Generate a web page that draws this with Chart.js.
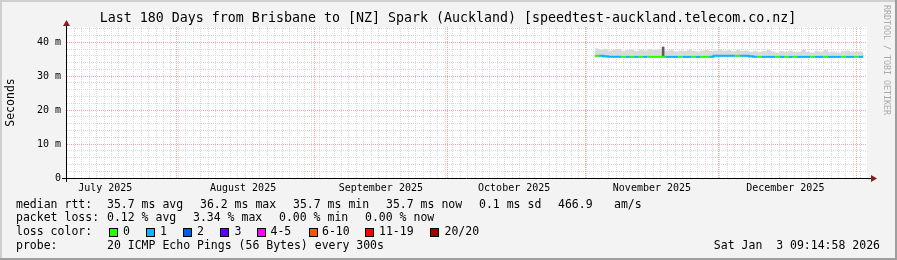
<!DOCTYPE html>
<html lang="en">
<head>
<meta charset="UTF-8">
<title>Last 180 Days from Brisbane to [NZ] Spark (Auckland)</title>
<script src="https://cdn.jsdelivr.net/npm/chart.js"></script>
<style>
  html, body { margin: 0; padding: 0; background: #f3f3f3; overflow: hidden; }
  canvas { display: block; }
</style>
</head>
<body>
<canvas id="smoke" width="897" height="260"></canvas>
<script>
// time axis: days since Mon Jul 7 2025 09:15 (180 days before the probe stamp)
const startStamp = Date.UTC(2025, 6, 7, 9, 15);
const rangeDays = 180;
const yMax = 44.5;

const monthStarts = ['2025-08-01', '2025-09-01', '2025-10-01', '2025-11-01', '2025-12-01', '2026-01-01'];
const monthLabelDates = ['2025-07-16', '2025-08-16', '2025-09-16', '2025-10-16', '2025-11-16', '2025-12-16'];
const monthLabels = ['July 2025', 'August 2025', 'September 2025', 'October 2025', 'November 2025', 'December 2025'];

// one sample per day, day offset from start
const sampleDays = [119, 120, 121, 122, 123, 124, 125, 126, 127, 128, 129, 130, 131, 132, 133, 134, 135, 136, 137, 138,
  139, 140, 141, 142, 143, 144, 145, 146, 147, 148, 149, 150, 151, 152, 153, 154, 155, 156, 157, 158,
  159, 160, 161, 162, 163, 164, 165, 166, 167, 168, 169, 170, 171, 172, 173, 174, 175, 176, 177, 178, 179, 180];

// median rtt in ms
const medianMs = [36.0, 36.0, 36.0, 35.9, 35.7, 35.7, 35.7, 35.7, 35.7, 35.7, 35.7, 35.7, 35.7, 35.7, 35.7, 35.7, 35.7, 35.7, 35.7, 35.7,
  35.7, 35.7, 35.7, 35.7, 35.7, 35.7, 35.7, 35.7, 36.0, 36.0, 36.0, 36.0, 36.0, 36.0, 36.0, 36.0, 35.9, 35.7, 35.7, 35.7,
  35.7, 35.7, 35.7, 35.7, 35.7, 35.7, 35.7, 35.7, 35.7, 35.7, 35.7, 35.7, 35.7, 35.7, 35.7, 35.7, 35.7, 35.7, 35.7, 35.7, 35.7, 35.7];

// lost pings (of 20) -> colour bin index
const lossBin = [0, 1, 1, 1, 1, 1, 0, 1, 0, 1, 0, 1, 0, 0, 0, 0, 1, 1, 1, 0,
  1, 1, 0, 1, 0, 0, 1, 1, 1, 1, 1, 1, 0, 1, 1, 1, 1, 0, 1, 1,
  1, 0, 1, 0, 1, 0, 1, 1, 1, 0, 1, 1, 0, 1, 1, 1, 0, 1, 1, 0, 1, 1];

// smoke band (min / max rtt, ms)
const smokeMin = [35.5, 35.5, 35.5, 35.5, 35.4, 35.4, 35.4, 35.5, 35.4, 35.4, 35.4, 35.4, 35.5, 35.4, 35.4, 35.4, 35.4, 35.4, 35.4, 35.4,
  35.4, 35.4, 35.4, 35.4, 35.4, 35.4, 35.4, 35.4, 35.6, 35.6, 35.6, 35.6, 35.6, 35.6, 35.6, 35.6, 35.5, 35.4, 35.4, 35.4,
  35.4, 35.4, 35.4, 35.4, 35.4, 35.4, 35.4, 35.4, 35.4, 35.4, 35.4, 35.4, 35.4, 35.4, 35.4, 35.4, 35.4, 35.4, 35.4, 35.4, 35.4, 35.4];
const smokeMax = [38.0, 38.2, 37.9, 38.1, 37.6, 37.8, 38.0, 37.5, 37.7, 37.9, 37.4, 37.8, 37.6, 38.0, 37.7, 37.9, 37.5, 37.6, 37.8, 37.3,
  37.6, 37.4, 37.7, 37.5, 37.3, 37.6, 37.8, 37.4, 37.6, 37.9, 37.5, 37.7, 37.3, 37.8, 37.4, 37.6, 37.2, 37.5, 37.1, 37.4,
  37.8, 37.3, 37.0, 37.4, 37.2, 37.6, 37.1, 37.3, 37.7, 37.2, 37.0, 37.5, 37.2, 37.8, 37.1, 37.3, 37.0, 37.4, 37.6, 37.2, 37.3, 37.3];

// single outlier spike
const spikeDays = [134.55];
const spikeLow = [36.0];
const spikeHigh = [38.6];

const lossLabels = ['0', '1', '2', '3', '4-5', '6-10', '11-19', '20/20'];
const lossColors = ['#26ff00', '#00b8ff', '#0059ff', '#5e00ff', '#ff00ff', '#ff5500', '#ff0000', '#a00000'];

const dayOf = s => {
  const [y, m, d] = s.split('-').map(Number);
  return (Date.UTC(y, m - 1, d) - startStamp) / 864e5;
};

const minorGrid = '#d9d9d9';
const majorGrid = '#f5a3a3';
const mono = '"DejaVu Sans Mono", monospace';

const textPlugin = {
  id: 'rrdText',
  beforeDraw(chart) {
    const { ctx, chartArea: a } = chart;
    ctx.save();
    ctx.fillStyle = '#f3f3f3';
    ctx.fillRect(0, 0, chart.width, chart.height);
    ctx.fillStyle = '#ffffff';
    ctx.fillRect(a.left, a.top, a.right - a.left, a.bottom - a.top);
    ctx.restore();
  },
  afterDraw(chart) {
    const { ctx, chartArea: a } = chart;
    ctx.save();

    // axes + arrows
    ctx.strokeStyle = '#000';
    ctx.lineWidth = 1;
    ctx.beginPath();
    ctx.moveTo(a.left - 0.5, a.bottom + 4);
    ctx.lineTo(a.left - 0.5, a.top - 2);
    ctx.moveTo(a.left - 5, a.bottom + 0.5);
    ctx.lineTo(a.right + 4, a.bottom + 0.5);
    ctx.stroke();
    ctx.fillStyle = '#8b1a1a';
    ctx.beginPath();
    ctx.moveTo(a.left - 0.5, a.top - 7);
    ctx.lineTo(a.left - 4, a.top - 1);
    ctx.lineTo(a.left + 3, a.top - 1);
    ctx.closePath();
    ctx.fill();
    ctx.beginPath();
    ctx.moveTo(a.right + 10, a.bottom + 0.5);
    ctx.lineTo(a.right + 4, a.bottom - 3);
    ctx.lineTo(a.right + 4, a.bottom + 4);
    ctx.closePath();
    ctx.fill();

    ctx.fillStyle = '#000';
    ctx.textBaseline = 'middle';

    // title
    ctx.font = '13.3px ' + mono;
    ctx.textAlign = 'center';
    ctx.fillText('Last 180 Days from Brisbane to [NZ] Spark (Auckland) [speedtest-auckland.telecom.co.nz]', 448, 18.5);

    // y axis title
    ctx.font = '11.5px ' + mono;
    ctx.save();
    ctx.translate(11, 102.5);
    ctx.rotate(-Math.PI / 2);
    ctx.fillText('Seconds', 0, 0);
    ctx.restore();

    // watermark
    ctx.save();
    ctx.fillStyle = '#a9a9a9';
    ctx.font = '8.3px ' + mono;
    ctx.translate(886, 60);
    ctx.rotate(Math.PI / 2);
    ctx.fillText('RRDTOOL / TOBI OETIKER', 0, 0);
    ctx.restore();

    // legend
    ctx.textAlign = 'left';
    ctx.font = '11.5px ' + mono;
    const rows = [
      [205, [[16, 'median rtt:'], [107, '35.7 ms avg'], [200, '36.2 ms max'], [293, '35.7 ms min'], [386, '35.7 ms now'], [479, '0.1 ms sd'], [558, '466.9'], [614, 'am/s']]],
      [218.5, [[16, 'packet loss:'], [107, '0.12 % avg'], [193, '3.34 % max'], [279, '0.00 % min'], [365, '0.00 % now']]],
      [232, [[16, 'loss color:']]],
      [246, [[16, 'probe:'], [107, '20 ICMP Echo Pings (56 Bytes) every 300s']]]
    ];
    rows.forEach(([y, parts]) => parts.forEach(([x, t]) => ctx.fillText(t, x, y)));

    const boxX = [108.5, 146, 183, 220, 257, 309, 365, 430];
    const labX = [123, 160, 197, 234.5, 270.5, 322, 379, 444.5];
    lossLabels.forEach((lab, i) => {
      ctx.fillStyle = lossColors[i];
      ctx.fillRect(Math.round(boxX[i]), 228, 8, 8);
      ctx.strokeStyle = '#000';
      ctx.strokeRect(Math.round(boxX[i]) + 0.5, 228.5, 8, 8);
      ctx.fillStyle = '#000';
      ctx.fillText(lab, labX[i], 232);
    });

    ctx.textAlign = 'right';
    ctx.fillText('Sat Jan  3 09:14:58 2026', 880, 246);

    // frame
    ctx.fillStyle = '#cfcfcf';
    ctx.fillRect(0, 0, chart.width, 2);
    ctx.fillRect(0, 0, 2, chart.height);
    ctx.fillStyle = '#9e9e9e';
    ctx.fillRect(0, chart.height - 2, chart.width, 2);
    ctx.fillRect(chart.width - 2, 0, 2, chart.height);
    ctx.restore();
  }
};

const gridOnly = (ticksFn, color, horizontal) => ({
  type: 'linear',
  position: horizontal ? 'bottom' : 'left',
  min: 0,
  max: horizontal ? rangeDays : yMax,
  afterBuildTicks: s => { s.ticks = ticksFn().map(v => ({ value: v })); },
  afterFit: s => { if (horizontal) s.height = 0; else s.width = 0; },
  ticks: { display: false },
  grid: { color: color, lineWidth: 1, drawTicks: false },
  border: { display: false, dash: [1, 1] }
});

const minorXTicks = () => {
  const out = [];
  for (let v = 1.685; v < rangeDays; v += 1.685) out.push(v);
  return out;
};
const minorYTicks = () => {
  const out = [];
  for (let v = 2; v < yMax; v += 2) if (v % 10 !== 0) out.push(v);
  return out;
};

new Chart(document.getElementById('smoke'), {
  type: 'line',
  data: {
    datasets: [
      {
        label: 'median rtt',
        data: sampleDays.map((d, i) => ({ x: d, y: medianMs[i] })),
        xAxisID: 'x', yAxisID: 'y',
        stepped: 'after',
        borderWidth: 2,
        borderCapStyle: 'butt',
        borderColor: lossColors[0],
        segment: { borderColor: c => lossColors[lossBin[c.p0DataIndex]] },
        pointRadius: 0,
        fill: false
      },
      {
        type: 'bar',
        label: 'outlier',
        data: spikeDays.map((d, i) => ({ x: d, y: [spikeLow[i], spikeHigh[i]] })),
        xAxisID: 'x', yAxisID: 'y',
        backgroundColor: '#5c5c5c',
        barThickness: 2
      },
      {
        label: 'smoke low',
        data: sampleDays.map((d, i) => ({ x: d, y: smokeMin[i] })),
        xAxisID: 'x', yAxisID: 'y',
        stepped: 'after',
        borderWidth: 0,
        borderColor: 'transparent',
        pointRadius: 0,
        fill: false
      },
      {
        label: 'smoke high',
        data: sampleDays.map((d, i) => ({ x: d, y: smokeMax[i] })),
        xAxisID: 'x', yAxisID: 'y',
        stepped: 'after',
        borderWidth: 0,
        borderColor: 'transparent',
        backgroundColor: '#dadada',
        pointRadius: 0,
        fill: '-1'
      }
    ]
  },
  options: {
    responsive: false,
    devicePixelRatio: 1,
    animation: false,
    events: [],
    layout: { padding: { left: 0, right: 30, top: 27, bottom: 60 } },
    font: { family: mono },
    plugins: { legend: { display: false }, tooltip: { enabled: false } },
    scales: {
      x: gridOnly(minorXTicks, minorGrid, true),
      y: gridOnly(minorYTicks, minorGrid, false),
      xMonth: gridOnly(() => monthStarts.map(dayOf), majorGrid, true),
      xLabel: {
        type: 'linear',
        position: 'bottom',
        min: 0,
        max: rangeDays,
        afterBuildTicks: s => { s.ticks = monthLabelDates.map(dayOf).map(v => ({ value: v })); },
        afterFit: s => { s.height = 22; },
        ticks: {
          callback: (v, i) => monthLabels[i],
          font: { family: mono, size: 10 },
          color: '#000',
          padding: 4,
          autoSkip: false,
          maxRotation: 0
        },
        grid: { display: false, drawTicks: false },
        border: { display: false }
      },
      yMajor: {
        type: 'linear',
        position: 'left',
        min: 0,
        max: yMax,
        afterBuildTicks: s => { s.ticks = [0, 10, 20, 30, 40].map(v => ({ value: v })); },
        afterFit: s => { s.width = 67; },
        ticks: {
          callback: v => (v === 0 ? '0' : v + ' m'),
          font: { family: mono, size: 10 },
          color: '#000',
          padding: 6
        },
        grid: { color: majorGrid, lineWidth: 1, drawTicks: false },
        border: { display: false, dash: [1, 1] }
      }
    }
  },
  plugins: [textPlugin]
});
</script>
</body>
</html>
